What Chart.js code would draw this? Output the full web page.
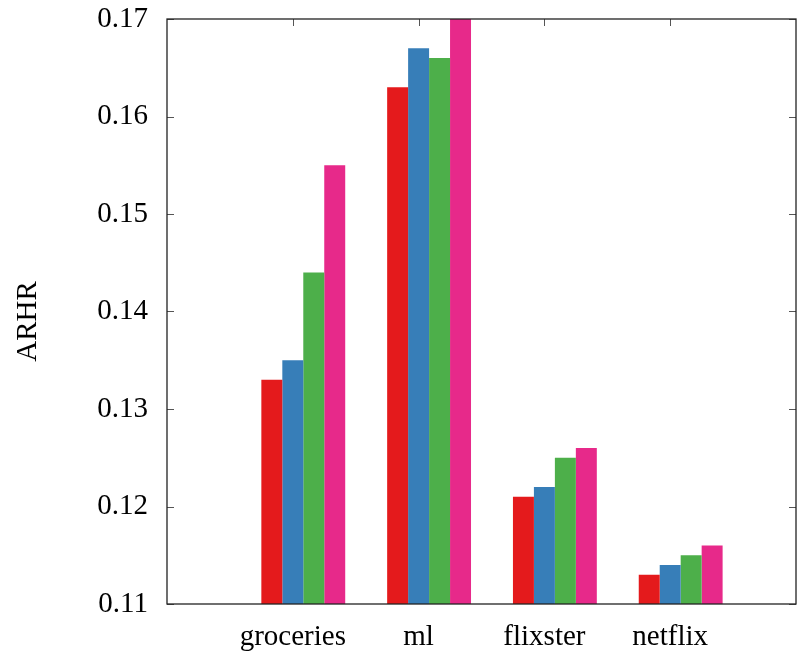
<!DOCTYPE html>
<html>
<head>
<meta charset="utf-8">
<script src="https://cdn.jsdelivr.net/npm/chart.js@4/dist/chart.umd.min.js"></script>
<style>
  html, body { margin: 0; padding: 0; background: #fff; }
  #c { display: block; }
</style>
</head>
<body>
<canvas id="c" width="798" height="657"></canvas>
<script>
const categories = ['groceries', 'ml', 'flixster', 'netflix'];
const redValues   = [0.133, 0.163, 0.121, 0.113];
const blueValues  = [0.135, 0.167, 0.122, 0.114];
const greenValues = [0.144, 0.166, 0.125, 0.115];
const pinkValues  = [0.155, 0.171, 0.126, 0.116];
const yTicks = [0.11, 0.12, 0.13, 0.14, 0.15, 0.16, 0.17];
const yLabel = 'ARHR';

const FONT = '"Liberation Serif", "DejaVu Serif", serif';
const colors = ['#e41a1c', '#377eb8', '#4daf4a', '#e7298a'];
const seriesList = [redValues, blueValues, greenValues, pinkValues];

const datasets = seriesList.map((vals, k) => ({
  label: 'series ' + (k + 1),
  data: vals.map((v, i) => ({ x: i, y: v })),
  backgroundColor: colors[k],
  borderWidth: 0,
  xAxisID: 'xb',
  yAxisID: 'y',
  categoryPercentage: 2 / 3,
  barPercentage: 1.0
}));

const frameTicks = {
  id: 'frameTicks',
  beforeDatasetsDraw(chart) {
    const { ctx, chartArea: a } = chart;
    const ys = chart.scales.y, xs = chart.scales.x;
    ctx.save();
    ctx.strokeStyle = '#555';
    ctx.lineWidth = 1;
    ctx.beginPath();
    yTicks.forEach(t => {
      const py = Math.round(ys.getPixelForValue(t)) + 0.5;
      ctx.moveTo(a.left, py); ctx.lineTo(a.left + 7, py);
      ctx.moveTo(a.right, py); ctx.lineTo(a.right - 7, py);
    });
    categories.forEach((c, i) => {
      const px = Math.round(xs.getPixelForValue(i)) + 0.5;
      ctx.moveTo(px, a.top); ctx.lineTo(px, a.top + 7);
      ctx.moveTo(px, a.bottom); ctx.lineTo(px, a.bottom - 7);
    });
    ctx.stroke();
    ctx.restore();
  },
  afterDatasetsDraw(chart) {
    const { ctx, chartArea: a } = chart;
    ctx.save();
    ctx.strokeStyle = '#222';
    ctx.lineWidth = 1.3;
    ctx.strokeRect(a.left, a.top, a.right - a.left, a.bottom - a.top);
    ctx.restore();
  },
  afterDraw(chart) {
    const { ctx, chartArea: a } = chart;
    ctx.save();
    ctx.translate(28, (a.top + a.bottom) / 2 + 10);
    ctx.rotate(-Math.PI / 2);
    ctx.fillStyle = '#000';
    ctx.font = '29px ' + FONT;
    ctx.textAlign = 'center';
    ctx.textBaseline = 'middle';
    ctx.fillText(yLabel, 0, 0);
    ctx.restore();
  }
};

new Chart(document.getElementById('c'), {
  type: 'bar',
  data: { datasets },
  plugins: [frameTicks],
  options: {
    responsive: false,
    animation: false,
    layout: { padding: { left: 0, right: 2, top: 19, bottom: 0 } },
    plugins: { legend: { display: false }, tooltip: { enabled: false } },
    scales: {
      xb: {
        type: 'linear',
        display: false,
        min: -1 - 1 / 12,
        max: 4 - 1 / 12,
        offset: false
      },
      x: {
        type: 'linear',
        position: 'bottom',
        min: -1,
        max: 4,
        offset: false,
        afterBuildTicks(scale) { scale.ticks = categories.map((c, i) => ({ value: i })); },
        afterFit(scale) { scale.height = 53; scale.paddingLeft = 0; scale.paddingRight = 0; },
        grid: { display: false, drawTicks: false },
        border: { display: false },
        ticks: {
          autoSkip: false,
          maxRotation: 0,
          padding: 16,
          color: '#000',
          font: { family: FONT, size: 29 },
          callback: (v) => categories[v] !== undefined ? categories[v] : ''
        }
      },
      y: {
        type: 'linear',
        min: 0.11,
        max: 0.17,
        afterBuildTicks(scale) { scale.ticks = yTicks.map(v => ({ value: v })); },
        afterFit(scale) { scale.width = 167; scale.paddingTop = 0; scale.paddingBottom = 0; },
        grid: { display: false, drawTicks: false },
        border: { display: false },
        ticks: {
          padding: 19,
          color: '#000',
          font: { family: FONT, size: 29 },
          callback: (v) => Number(v).toFixed(2)
        }
      }
    }
  }
});
</script>
</body>
</html>
